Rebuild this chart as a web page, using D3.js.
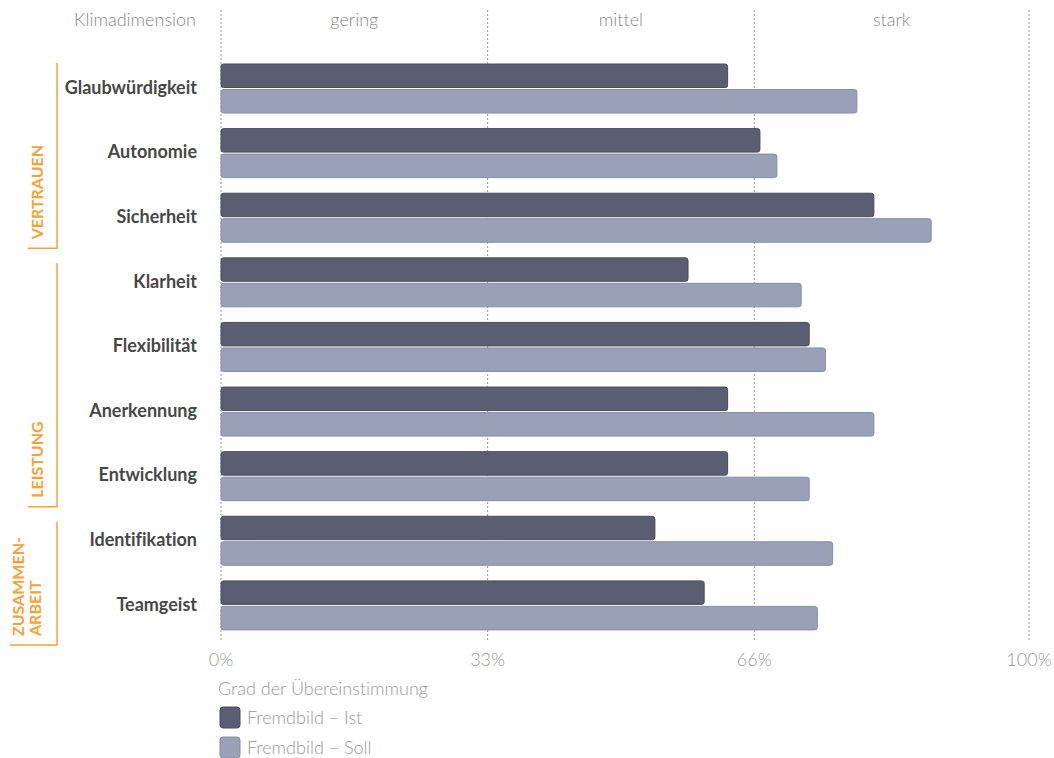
<!DOCTYPE html>
<html>
<head>
<meta charset="utf-8">
<script src="https://cdn.jsdelivr.net/npm/d3@7"></script>
<style>
  body { margin: 0; background: #fff; }
  svg text { font-family: Lato, "Open Sans", sans-serif; font-variant-ligatures: none; }
</style>
</head>
<body>
<script>
const w = 1054
const h = 758

// data
const categories = ['Glaubwürdigkeit', 'Autonomie', 'Sicherheit', 'Klarheit', 'Flexibilität',
  'Anerkennung', 'Entwicklung', 'Identifikation', 'Teamgeist']
const istValues = [62.7, 66.7, 80.8, 57.8, 72.8, 62.7, 62.7, 53.7, 59.8]
const sollValues = [78.7, 68.8, 87.9, 71.8, 74.8, 80.8, 72.8, 75.7, 73.8]
const tickValues = [0, 33, 66, 100]
const tickLabels = ['0%', '33%', '66%', '100%']
const zoneLabels = ['gering', 'mittel', 'stark']
const groups = [
  { lines: ['VERTRAUEN'], from: 'Glaubwürdigkeit', to: 'Sicherheit' },
  { lines: ['LEISTUNG'], from: 'Klarheit', to: 'Entwicklung' },
  { lines: ['ZUSAMMEN-', 'ARBEIT'], from: 'Identifikation', to: 'Teamgeist' }
]
const seriesNames = ['Fremdbild – Ist', 'Fremdbild – Soll']
const colors = ['#5a5e73', '#9aa0b8']
const strokes = ['#4a4d5e', '#868ca3']
const orange = '#f7a234'

const svg = d3.select('body').append('svg')
  .attr('width', w)
  .attr('height', h)

const x = d3.scaleLinear().domain([0, 100]).range([221, 1029])
const y = d3.scaleBand().domain(categories).range([58.5, 640])
const bh = 23.5

// grid lines
svg.selectAll('line.grid')
  .data(tickValues)
  .enter()
  .append('line')
  .attr('x1', d => x(d))
  .attr('x2', d => x(d))
  .attr('y1', 10)
  .attr('y2', 642)
  .attr('stroke', '#999')
  .attr('stroke-width', 1)
  .attr('stroke-dasharray', '2,2')

// zone labels at top
svg.selectAll('text.zone')
  .data(zoneLabels)
  .enter()
  .append('text')
  .attr('x', (d, i) => (x(tickValues[i]) + x(tickValues[i + 1])) / 2)
  .attr('y', 26)
  .attr('text-anchor', 'middle')
  .attr('font-size', '18px')
  .attr('font-weight', 300)
  .attr('fill', '#888')
  .text(d => d)

svg.append('text')
  .attr('x', 196)
  .attr('y', 26)
  .attr('text-anchor', 'end')
  .attr('font-size', '18px')
  .attr('font-weight', 300)
  .attr('fill', '#888')
  .text('Klimadimension')

// bars
const rows = svg.selectAll('g.row')
  .data(categories)
  .enter()
  .append('g')
  .attr('transform', d => `translate(0,${y(d)})`)

rows.append('rect')
  .attr('x', x(0))
  .attr('y', 5.5)
  .attr('width', (d, i) => x(istValues[i]) - x(0))
  .attr('height', bh)
  .attr('rx', 2.5)
  .attr('fill', colors[0])
  .attr('stroke', strokes[0])
  .attr('stroke-width', 1)

rows.append('rect')
  .attr('x', x(0))
  .attr('y', 31)
  .attr('width', (d, i) => x(sollValues[i]) - x(0))
  .attr('height', bh)
  .attr('rx', 2.5)
  .attr('fill', colors[1])
  .attr('stroke', strokes[1])
  .attr('stroke-width', 1)

rows.append('text')
  .attr('x', 197)
  .attr('y', 29)
  .attr('dy', '0.35em')
  .attr('text-anchor', 'end')
  .attr('font-size', '18px')
  .attr('font-weight', 'bold')
  .attr('fill', '#474747')
  .text(d => d)

// group brackets
groups.forEach((g, gi) => {
  const last = gi === groups.length - 1
  const top = y(g.from) + (gi === 0 ? 4.5 : 11)
  const bottom = y(g.to) + y.bandwidth() + (last ? 5 : -4)
  const left = last ? 10 : 28
  svg.append('path')
    .attr('d', `M57,${top}V${bottom}H${left}`)
    .attr('fill', 'none')
    .attr('stroke', orange)
    .attr('stroke-width', 1.5)
  g.lines.forEach((line, li) => {
    const tx = last ? 18 + li * 17 : 37
    svg.append('text')
      .attr('transform', `translate(${tx},${bottom - 9}) rotate(-90)`)
      .attr('dy', '0.35em')
      .attr('text-anchor', 'start')
      .attr('font-size', '16px')
      .attr('font-weight', 'bold')
      .attr('fill', orange)
      .text(line)
  })
})

// x tick labels
svg.selectAll('text.tick')
  .data(tickValues)
  .enter()
  .append('text')
  .attr('x', d => x(d))
  .attr('y', 666)
  .attr('text-anchor', 'middle')
  .attr('font-size', '18px')
  .attr('font-weight', 300)
  .attr('fill', '#999')
  .text((d, i) => tickLabels[i])

// legend
svg.append('text')
  .attr('x', 218)
  .attr('y', 695)
  .attr('font-size', '18px')
  .attr('font-weight', 300)
  .attr('fill', '#999')
  .text('Grad der Übereinstimmung')

const legend = svg.selectAll('g.legend')
  .data(seriesNames)
  .enter()
  .append('g')
  .attr('transform', (d, i) => `translate(220,${707 + i * 30})`)

legend.append('rect')
  .attr('width', 20)
  .attr('height', 21)
  .attr('rx', 3)
  .attr('fill', (d, i) => colors[i])
  .attr('stroke', (d, i) => strokes[i])

legend.append('text')
  .attr('x', 27)
  .attr('y', 17)
  .attr('font-size', '18px')
  .attr('font-weight', 300)
  .attr('fill', '#999')
  .text(d => d)
</script>
</body>
</html>
